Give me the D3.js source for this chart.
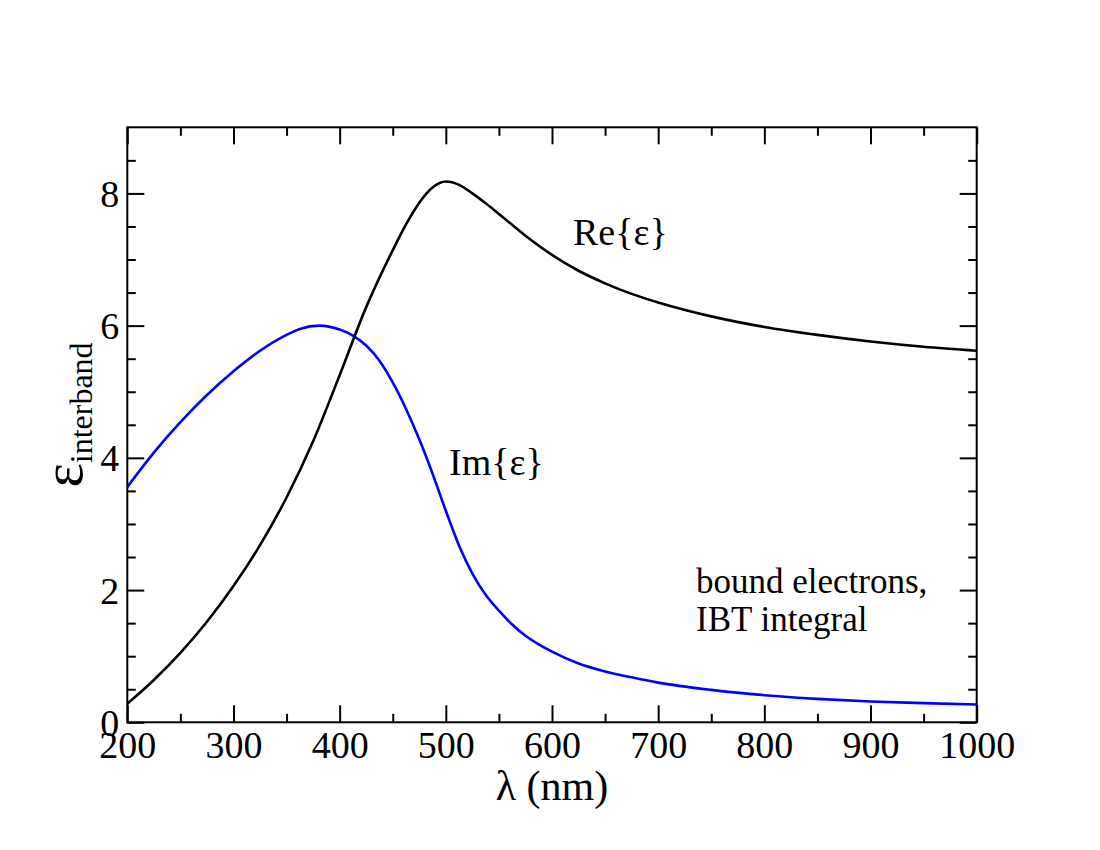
<!DOCTYPE html>
<html>
<head>
<meta charset="utf-8">
<script src="https://cdn.jsdelivr.net/npm/d3@7"></script>
<style>
  html, body { margin: 0; padding: 0; background: #fff; }
  svg { display: block; }
  text { font-family: "Liberation Serif", "Times New Roman", serif; fill: #000; }
</style>
</head>
<body>
<script>
// ---- data ----
const reLambda = [200, 225, 250, 275, 300, 325, 350, 375, 400, 425, 450, 462.5, 475, 487.5, 500, 512.5, 525, 537.5, 550, 575, 600, 625, 650, 675, 700, 750, 800, 850, 900, 950, 1000];
const reValues = [0.28, 0.64, 1.05, 1.52, 2.06, 2.68, 3.40, 4.25, 5.25, 6.28, 7.14, 7.53, 7.86, 8.09, 8.18, 8.13, 8.00, 7.85, 7.69, 7.36, 7.07, 6.83, 6.64, 6.48, 6.35, 6.14, 5.98, 5.86, 5.76, 5.68, 5.62];
const imLambda = [200, 225, 250, 275, 300, 325, 350, 362.5, 381, 400, 412.5, 425, 437.5, 450, 462.5, 475, 487.5, 500, 512.5, 525, 537.5, 550, 562.5, 575, 587.5, 600, 625, 650, 675, 700, 750, 800, 850, 900, 950, 1000];
const imValues = [3.56, 4.08, 4.54, 4.95, 5.31, 5.62, 5.86, 5.95, 6.00, 5.94, 5.85, 5.70, 5.47, 5.14, 4.74, 4.28, 3.76, 3.20, 2.67, 2.25, 1.93, 1.69, 1.48, 1.31, 1.18, 1.07, 0.89, 0.77, 0.68, 0.60, 0.49, 0.41, 0.355, 0.315, 0.29, 0.27];
const xMajorTicks = [200, 300, 400, 500, 600, 700, 800, 900, 1000];
const xMinorTicks = [250, 350, 450, 550, 650, 750, 850, 950];
const yMajorTicks = [0, 2, 4, 6, 8];
const yMinorTicks = [0.5, 1, 1.5, 2.5, 3, 3.5, 4.5, 5, 5.5, 6.5, 7, 7.5, 8.5];
const labels = { re: "Re{ε}", im: "Im{ε}", note1: "bound electrons,", note2: "IBT integral", xTitle: "λ (nm)", yMain: "ε", ySub: "interband" };

// ---- layout ----
const W = 1100, H = 850;
const L = 127.3, R = 976.7, T = 127.3, B = 722.3;

const svg = d3.select("body").append("svg").attr("width", W).attr("height", H);

const x = d3.scaleLinear().domain([200, 1000]).range([L, R]);
const y = d3.scaleLinear().domain([0, 9]).range([B, T]);

const MAJ = 17, MIN = 8.5, FS = 38;

function styleAxis(g) {
  g.select(".domain").remove();
  g.selectAll(".tick line").attr("stroke", "#000").attr("stroke-width", 2);
}

// bottom axis (labels + inward ticks)
svg.append("g").attr("transform", `translate(0,${B})`)
  .call(d3.axisBottom(x).tickValues(xMajorTicks).tickSizeInner(-MAJ).tickSizeOuter(0).tickPadding(0).tickFormat(d3.format("d")))
  .call(styleAxis)
  .call(g => g.selectAll(".tick text").attr("font-size", FS).attr("font-family", "Liberation Serif").attr("dy", null).attr("y", 36));
svg.append("g").attr("transform", `translate(0,${B})`)
  .call(d3.axisBottom(x).tickValues(xMinorTicks).tickSizeInner(-MIN).tickSizeOuter(0).tickFormat(""))
  .call(styleAxis);
// top axis
svg.append("g").attr("transform", `translate(0,${T})`)
  .call(d3.axisTop(x).tickValues(xMajorTicks).tickSizeInner(-MAJ).tickSizeOuter(0).tickFormat(""))
  .call(styleAxis);
svg.append("g").attr("transform", `translate(0,${T})`)
  .call(d3.axisTop(x).tickValues(xMinorTicks).tickSizeInner(-MIN).tickSizeOuter(0).tickFormat(""))
  .call(styleAxis);
// left axis
svg.append("g").attr("transform", `translate(${L},0)`)
  .call(d3.axisLeft(y).tickValues(yMajorTicks).tickSizeInner(-MAJ).tickSizeOuter(0).tickPadding(0).tickFormat(d3.format("d")))
  .call(styleAxis)
  .call(g => g.selectAll(".tick text").attr("font-size", FS).attr("font-family", "Liberation Serif").attr("dy", null).attr("x", -8).attr("y", 13));
svg.append("g").attr("transform", `translate(${L},0)`)
  .call(d3.axisLeft(y).tickValues(yMinorTicks).tickSizeInner(-MIN).tickSizeOuter(0).tickFormat(""))
  .call(styleAxis);
// right axis
svg.append("g").attr("transform", `translate(${R},0)`)
  .call(d3.axisRight(y).tickValues(yMajorTicks).tickSizeInner(-MAJ).tickSizeOuter(0).tickFormat(""))
  .call(styleAxis);
svg.append("g").attr("transform", `translate(${R},0)`)
  .call(d3.axisRight(y).tickValues(yMinorTicks).tickSizeInner(-MIN).tickSizeOuter(0).tickFormat(""))
  .call(styleAxis);

// frame
svg.append("rect").attr("x", L).attr("y", T).attr("width", R - L).attr("height", B - T)
  .attr("fill", "none").attr("stroke", "#000").attr("stroke-width", 2);

// curves
const line = d3.line().x(d => x(d[0])).y(d => y(d[1])).curve(d3.curveMonotoneX);
svg.append("path").datum(d3.zip(imLambda, imValues))
  .attr("d", line).attr("fill", "none").attr("stroke", "#0000ff").attr("stroke-width", 2.6);
svg.append("path").datum(d3.zip(reLambda, reValues))
  .attr("d", line).attr("fill", "none").attr("stroke", "#000").attr("stroke-width", 2.6);

// annotations
svg.append("text").attr("x", 573).attr("y", 245).attr("font-size", 38).text(labels.re);
svg.append("text").attr("x", 449).attr("y", 475).attr("font-size", 38).text(labels.im);
svg.append("text").attr("x", 696).attr("y", 593).attr("font-size", 35).text(labels.note1);
svg.append("text").attr("x", 696).attr("y", 631).attr("font-size", 35).text(labels.note2);

// axis titles
svg.append("text").attr("x", (L + R) / 2).attr("y", 800).attr("text-anchor", "middle").attr("font-size", 42).text(labels.xTitle);
const yt = svg.append("text").attr("transform", "translate(82,415) rotate(-90)").attr("text-anchor", "middle");
yt.append("tspan").attr("font-size", 58).text(labels.yMain);
yt.append("tspan").attr("font-size", 32).attr("dy", 10).text(labels.ySub);
</script>
</body>
</html>
